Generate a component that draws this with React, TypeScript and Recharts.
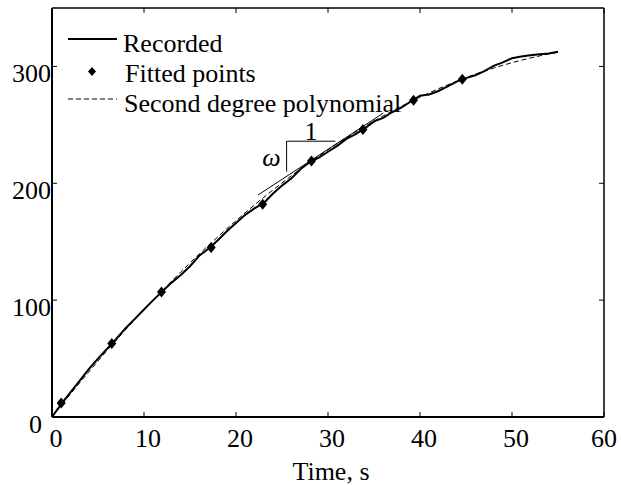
import React from 'react'
import { LineChart, Line, XAxis, YAxis, ReferenceLine, Legend, Label } from 'recharts'

// time axis of the recorded trace, s
const timeS = [
  0, 1, 2, 3, 4, 5, 6, 7, 8, 9, 10, 11, 12, 13, 14, 15, 16, 17, 18, 19, 20, 21, 22, 23, 24, 25, 26, 27,
  28, 29, 30, 31, 32, 33, 34, 35, 36, 37, 38, 39, 40, 41, 42, 43, 44, 45, 46, 47, 48, 49, 50, 51, 52, 53,
  54, 55,
]
const recordedValues = [
  0, 11, 21, 31, 41, 50, 58.5, 67, 76, 84, 92, 100, 107.5, 115, 121.5, 129, 138, 144, 151, 159, 166, 173,
  178.5, 183, 191, 198, 204, 212, 218, 222, 227, 232, 238, 242, 247, 253, 256, 261, 265, 270, 275, 276,
  279, 283, 287, 290, 292.5, 296, 300.5, 303.5, 307, 308.5, 309.5, 310.5, 311, 312.5,
]
const polyValues = [
  0, 9.9, 19.6, 29.2, 38.6, 47.9, 57, 65.9, 74.7, 83.3, 91.8, 100.1, 108.3, 116.3, 124.2, 131.9, 139.4,
  146.8, 154, 161.1, 168, 174.8, 181.4, 187.9, 194.2, 200.3, 206.3, 212.2, 217.8, 223.3, 228.7, 233.9, 239,
  243.8, 248.6, 253.2, 257.6, 261.9, 266, 269.9, 273.8, 277.4, 280.9, 284.2, 287.4, 290.4, 293.3, 296,
  298.6, 301, 303.2, 305.3, 307.2, 309, 310.7, 312.1,
]

const fittedTimes = [1.0, 6.5, 11.9, 17.3, 22.9, 28.2, 33.8, 39.3, 44.6]
const fittedValues = [12, 63, 107, 145, 182, 219, 246, 271, 289]

// tangent and slope triangle
const tangent = [
  { x: 22.4, y: 190 },
  { x: 36, y: 260 },
]
const triVertical = [
  { x: 25.5, y: 210 },
  { x: 25.5, y: 236 },
]
const triHorizontal = [
  { x: 25.5, y: 236 },
  { x: 30.8, y: 236 },
]

const xTicks = [0, 10, 20, 30, 40, 50, 60]
const yTicks = [0, 100, 200, 300]

const recorded = timeS.map((t, i) => ({ t, v: recordedValues[i] }))
const poly = timeS.map((t, i) => ({ t, v: polyValues[i] }))
const fitted = fittedTimes.map((t, i) => ({ t, v: fittedValues[i] }))

const FONT = 'Liberation Serif, DejaVu Serif, serif'
const PLOT_W = 552
const PLOT_H = 409

const XTick = (props: any) => {
  const { x, y, payload } = props
  const v = payload.value
  const last = v === 60
  return (
    <g>
      <line x1={x} y1={y} x2={x} y2={y - 5} stroke="#000" />
      <line x1={x} y1={y - PLOT_H} x2={x} y2={y - PLOT_H + 5} stroke="#000" />
      <text x={last ? x + 13 : x + 4} y={y + 30} textAnchor={last ? 'end' : 'middle'} style={{ fontFamily: FONT, fontSize: 26 }} fill="#000">
        {v}
      </text>
    </g>
  )
}

const YTick = (props: any) => {
  const { x, y, payload } = props
  const v = payload.value
  return (
    <g>
      <line x1={x} y1={y} x2={x + 5} y2={y} stroke="#000" />
      <line x1={x + PLOT_W} y1={y} x2={x + PLOT_W - 5} y2={y} stroke="#000" />
      <text x={v === 0 ? x - 10 : x - 1} y={y + 16} textAnchor="end" style={{ fontFamily: FONT, fontSize: 26 }} fill="#000">
        {v}
      </text>
    </g>
  )
}

const Diamond = (props: any) => {
  const { cx, cy, index } = props
  return <path key={index} d={`M${cx},${cy - 5.5}L${cx + 4.5},${cy}L${cx},${cy + 5.5}L${cx - 4.5},${cy}Z`} fill="#000" />
}

const LegendBox = () => (
  <svg width={621} height={130} style={{ overflow: 'visible', display: 'block' }}>
    <g style={{ fontFamily: FONT, fontSize: 26 }} fill="#000">
      <line x1={68} y1={39} x2={117} y2={39} stroke="#000" strokeWidth={2} />
      <text x={123} y={52}>Recorded</text>
      <path d="M92,67L96,71.5L92,76L88,71.5Z" fill="#000" />
      <text x={125} y={82}>Fitted points</text>
      <line x1={68} y1={99} x2={117} y2={99} stroke="#000" strokeWidth={1} strokeDasharray="5 3" />
      <text x={124} y={112}>Second degree polynomial</text>
    </g>
  </svg>
)

export default function App() {
  return (
    <div style={{ position: 'absolute', left: 0, top: 0, background: '#fff', fontFamily: FONT }}>
      <LineChart width={621} height={485} margin={{ top: 8, right: 17, left: 0, bottom: 0 }} style={{ fontFamily: FONT }}>
        <XAxis
          type="number"
          dataKey="t"
          domain={[0, 60]}
          ticks={xTicks}
          interval={0}
          height={68}
          tickSize={0}
          tickMargin={0}
          tickLine={false}
          axisLine={{ stroke: '#000', strokeWidth: 2 }}
          tick={<XTick />}
          allowDataOverflow
        >
          <Label
            content={(p: any) => {
              const vb = p.viewBox
              return (
                <text x={vb.x + vb.width / 2 + 3} y={vb.y + 63} textAnchor="middle" style={{ fontFamily: FONT, fontSize: 26 }} fill="#000">
                  Time, s
                </text>
              )
            }}
          />
        </XAxis>
        <YAxis
          type="number"
          domain={[0, 350]}
          ticks={yTicks}
          interval={0}
          width={52}
          tickSize={0}
          tickMargin={0}
          tickLine={false}
          axisLine={{ stroke: '#000', strokeWidth: 2 }}
          tick={<YTick />}
          allowDataOverflow
        />
        <ReferenceLine y={350} stroke="#000" strokeWidth={1.5} />
        <ReferenceLine x={60} stroke="#000" strokeWidth={1.5} />
        <ReferenceLine segment={tangent} stroke="#000" strokeWidth={1} />
        <ReferenceLine
          segment={triVertical}
          stroke="#000"
          strokeWidth={1}
          label={{ value: 'ω', position: 'left', offset: 6, style: { fontFamily: FONT, fontSize: 26, fontStyle: 'italic' }, fill: '#000' }}
        />
        <ReferenceLine
          segment={triHorizontal}
          stroke="#000"
          strokeWidth={1}
          label={{ value: '1', position: 'top', offset: 1, style: { fontFamily: FONT, fontSize: 26 }, fill: '#000' }}
        />
        <Line
          data={poly}
          dataKey="v"
          stroke="#000"
          strokeWidth={1}
          strokeDasharray="5 3"
          dot={false}
          activeDot={false}
          isAnimationActive={false}
        />
        <Line
          data={recorded}
          dataKey="v"
          stroke="#000"
          strokeWidth={2}
          dot={false}
          activeDot={false}
          isAnimationActive={false}
        />
        <Line
          data={fitted}
          dataKey="v"
          stroke="none"
          dot={<Diamond />}
          activeDot={false}
          isAnimationActive={false}
        />
        <Legend
          layout="vertical"
          align="center"
          verticalAlign="middle"
          wrapperStyle={{ top: 0, left: 0, width: 621, height: 130, pointerEvents: 'none' }}
          content={() => <LegendBox />}
        />
      </LineChart>
    </div>
  )
}
